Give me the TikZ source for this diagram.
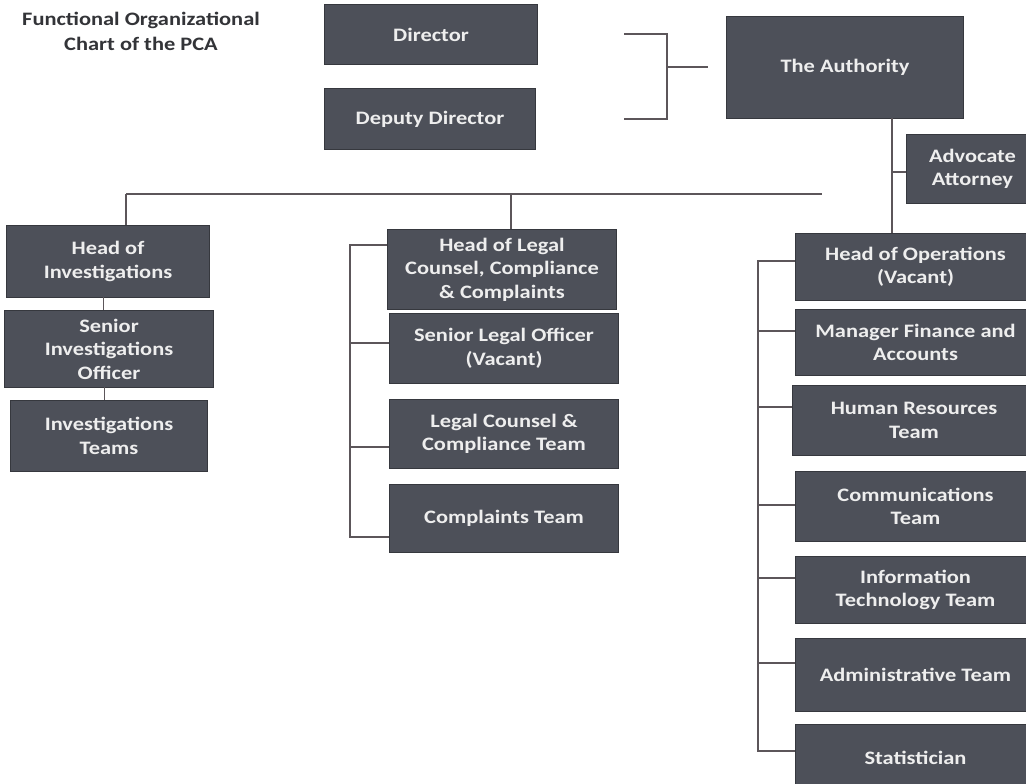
\documentclass[tikz,border=0pt]{standalone}
\usepackage{fontspec}
\setmainfont{Carlito}[FakeStretch=1.18]
\begin{document}
\begin{tikzpicture}[x=1pt,y=-1pt,
  box/.style={draw=boxedge,fill=boxfill,text=boxtext,line width=1pt,anchor=north west,
    align=center,inner sep=2pt,font=\bfseries\fontsize{19}{23.5}\selectfont},
  conn/.style={draw=linecol,line width=1.6pt}]
\definecolor{boxfill}{HTML}{4D5059}
\definecolor{boxedge}{HTML}{36383E}
\definecolor{boxtext}{HTML}{EEEEEE}
\definecolor{linecol}{HTML}{5C565A}
\definecolor{titlecol}{HTML}{333438}
\clip (0,0) rectangle (1026,784);
\fill[white] (0,0) rectangle (1026,784);
\node[text=titlecol,align=center,font=\bfseries\fontsize{19}{25}\selectfont] (title) at (141,31) {Functional Organizational\\Chart of the PCA};
% top
\node[box,minimum width=213,minimum height=60] (dir) at (324,4) {Director};
\node[box,minimum width=211,minimum height=61] (dep) at (324,88) {Deputy Director};
\node[box,minimum width=237,minimum height=102] (auth) at (726,16) {The Authority};
\node[box,minimum width=132,minimum height=69] (adv) at (906,134) {Advocate\\Attorney};
% left column
\node[box,minimum width=203,minimum height=72] (hinv) at (6,225) {Head of\\Investigations};
\node[box,minimum width=209,minimum height=77] (sio) at (4,310) {Senior\\Investigations\\Officer};
\node[box,minimum width=197,minimum height=71] (invt) at (10,400) {Investigations\\Teams};
% middle column
\node[box,minimum width=229,minimum height=80] (hlc) at (387,229) {Head of Legal\\Counsel, Compliance\\\& Complaints};
\node[box,minimum width=229,minimum height=70] (slo) at (389,313) {Senior Legal Officer\\(Vacant)};
\node[box,minimum width=229,minimum height=69] (lcc) at (389,399) {Legal Counsel \&\\Compliance Team};
\node[box,minimum width=229,minimum height=68] (ct) at (389,484) {Complaints Team};
% right column
\node[box,minimum width=240,minimum height=67] (hop) at (795,233) {Head of Operations\\(Vacant)};
\node[box,minimum width=240,minimum height=66] (mfa) at (795,309) {Manager Finance and\\Accounts};
\node[box,minimum width=243,minimum height=70] (hr) at (792,385) {Human Resources\\Team};
\node[box,minimum width=240,minimum height=70] (com) at (795,471) {Communications\\Team};
\node[box,minimum width=240,minimum height=67] (itt) at (795,556) {Information\\Technology Team};
\node[box,minimum width=240,minimum height=73] (adm) at (795,638) {Administrative Team};
\node[box,minimum width=240,minimum height=66] (stat) at (795,724) {Statistician};
% bracket Director / Deputy -> Authority
\coordinate (b1) at (624,34);
\coordinate (b2) at (667,34);
\coordinate (b3) at (667,119);
\coordinate (b4) at (624,119);
\coordinate (bm) at (667,67);
\coordinate (bmEnd) at (708,67);
\draw[conn] (b1) -- (b2) -- (b3) -- (b4);
\draw[conn] (bm) -- (bmEnd);
% Authority trunk
\coordinate (t1) at (892,118);
\coordinate (t2) at (892,172);
\draw[conn] (t1) -- (t1 |- hop.north);
\draw[conn] (t2) -- (t2 -| adv.west);
% horizontal bar
\coordinate (h1) at (126,194);
\coordinate (h2) at (822,194);
\coordinate (h3) at (511,194);
\draw[conn] (h1) -- (h2);
\draw[conn] (h1) -- (h1 |- hinv.north);
\draw[conn] (h3) -- (h3 |- hlc.north);
% left chain
\coordinate (l1) at (103,297);
\coordinate (l2) at (104,387);
\draw[conn,line width=1pt] (l1) -- (l1 |- sio.north);
\draw[conn,line width=1pt] (l2) -- (l2 |- invt.north);
% middle bracket
\coordinate (m1) at (350,245);
\coordinate (m2) at (350,343);
\coordinate (m3) at (350,447);
\coordinate (m4) at (350,537);
\draw[conn] (m1 -| hlc.west) -- (m1) -- (m4) -- (m4 -| ct.west);
\draw[conn] (m2) -- (m2 -| slo.west);
\draw[conn] (m3) -- (m3 -| lcc.west);
% right bracket
\coordinate (r1) at (758,261);
\coordinate (r2) at (758,331);
\coordinate (r3) at (758,407);
\coordinate (r4) at (758,505);
\coordinate (r5) at (758,578);
\coordinate (r6) at (758,663);
\coordinate (r7) at (758,751);
\draw[conn] (r1 -| hop.west) -- (r1) -- (r7) -- (r7 -| stat.west);
\draw[conn] (r2) -- (r2 -| mfa.west);
\draw[conn] (r3) -- (r3 -| hr.west);
\draw[conn] (r4) -- (r4 -| com.west);
\draw[conn] (r5) -- (r5 -| itt.west);
\draw[conn] (r6) -- (r6 -| adm.west);
\end{tikzpicture}
\end{document}
